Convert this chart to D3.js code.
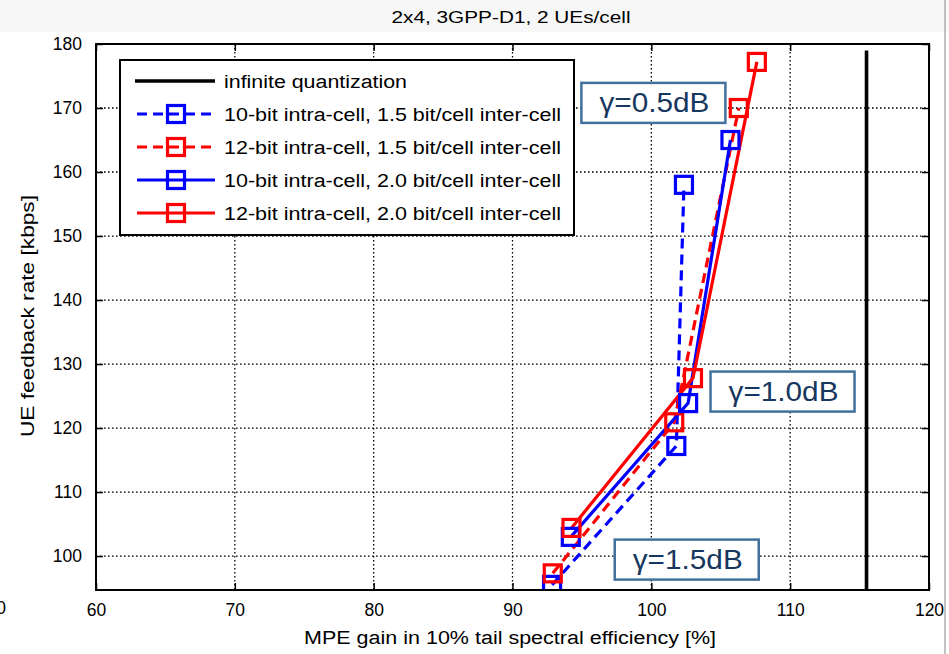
<!DOCTYPE html>
<html>
<head>
<meta charset="utf-8">
<script src="https://cdn.jsdelivr.net/npm/d3@7"></script>
<style>
  body { margin: 0; background: #fff; }
  svg { display: block; }
  text { font-family: "Liberation Sans", Arial, sans-serif; }
</style>
</head>
<body>
<div id="chart"></div>
<script>
// data
const seriesNames = [
  "10-bit intra-cell, 1.5 bit/cell inter-cell",
  "12-bit intra-cell, 1.5 bit/cell inter-cell",
  "10-bit intra-cell, 2.0 bit/cell inter-cell",
  "12-bit intra-cell, 2.0 bit/cell inter-cell"
];
const seriesColors = ["#0000ff", "#ff0000", "#0000ff", "#ff0000"];
const seriesDashed = [true, true, false, false];
const gain10_15 = [92.85, 101.8, 102.35];
const rate10_15 = [95.5, 117.2, 158.0];
const gain12_15 = [92.9, 101.65, 106.3];
const rate12_15 = [97.3, 120.9, 170.0];
const gain10_20 = [94.2, 102.65, 105.7];
const rate10_20 = [103.0, 123.9, 165.0];
const gain12_20 = [94.25, 103.0, 107.6];
const rate12_20 = [104.4, 127.8, 177.2];
const infiniteGain = [115.5, 115.5];
const infiniteRate = [90, 179];
const xTicks = [60, 70, 80, 90, 100, 110, 120];
const yTicks = [100, 110, 120, 130, 140, 150, 160, 170, 180];
const gammaLabels = ["\u03b3=0.5dB", "\u03b3=1.0dB", "\u03b3=1.5dB"];
const gammaAnchor = [[100.15, 170.8], [109.45, 125.7], [102.55, 99.45]]; // centre of each box, data units

const width = 949, height = 654;
const margin = {top: 44, right: 20, bottom: 64, left: 96};

const svg = d3.select("#chart").append("svg")
  .attr("width", width).attr("height", height);

// light top band + right edge line (screenshot frame)
svg.append("rect").attr("x", 0).attr("y", 0).attr("width", width).attr("height", 32).attr("fill", "#f7f7f7");
svg.append("line").attr("x1", 945).attr("x2", 945).attr("y1", 0).attr("y2", height)
  .attr("stroke", "#9a9a9a").attr("stroke-width", 1.2);

const x = d3.scaleLinear().domain([60, 120]).range([margin.left, width - margin.right]);
const y = d3.scaleLinear().domain([94.7, 180]).range([height - margin.bottom, margin.top]);

svg.append("defs").append("clipPath").attr("id", "plotclip")
  .append("rect")
  .attr("x", x(60)).attr("y", y(180))
  .attr("width", x(120) - x(60)).attr("height", y(94.7) - y(180));

svg.append("rect")
  .attr("x", x(60)).attr("y", y(180))
  .attr("width", x(120) - x(60)).attr("height", y(94.7) - y(180))
  .attr("fill", "#fff");

// grid
const grid = svg.append("g").attr("stroke", "#000").attr("stroke-width", 1.3).attr("stroke-dasharray", "1.6,2.4");
grid.selectAll(".gx").data(xTicks.slice(1, -1)).join("line")
  .attr("x1", d => x(d)).attr("x2", d => x(d))
  .attr("y1", y(180)).attr("y2", y(94.7));
grid.selectAll(".gy").data(yTicks.slice(0, -1)).join("line")
  .attr("x1", x(60)).attr("x2", x(120))
  .attr("y1", d => y(d)).attr("y2", d => y(d));

// axes with inward ticks
const fmt = d3.format("d");
svg.append("g")
  .attr("transform", `translate(0,${y(94.7)})`)
  .call(d3.axisBottom(x).tickValues(xTicks).tickSize(-7).tickPadding(14).tickFormat(fmt))
  .call(g => g.select(".domain").remove())
  .call(g => g.selectAll(".tick line").attr("stroke-width", 1.5))
  .call(g => g.selectAll("text").attr("font-size", 17.5).attr("fill", "#000")
    .attr("font-family", "Liberation Sans, Arial, sans-serif"));
svg.append("g")
  .attr("transform", `translate(0,${y(180)})`)
  .call(d3.axisTop(x).tickValues(xTicks).tickSize(-7).tickFormat(""))
  .call(g => g.select(".domain").remove())
  .call(g => g.selectAll(".tick line").attr("stroke-width", 1.5));
svg.append("g")
  .attr("transform", `translate(${x(60)},0)`)
  .call(d3.axisLeft(y).tickValues(yTicks).tickSize(-7).tickPadding(14).tickFormat(fmt))
  .call(g => g.select(".domain").remove())
  .call(g => g.selectAll(".tick line").attr("stroke-width", 1.5))
  .call(g => g.selectAll("text").attr("font-size", 17.5).attr("fill", "#000")
    .attr("font-family", "Liberation Sans, Arial, sans-serif"));
svg.append("g")
  .attr("transform", `translate(${x(120)},0)`)
  .call(d3.axisRight(y).tickValues(yTicks).tickSize(-7).tickFormat(""))
  .call(g => g.select(".domain").remove())
  .call(g => g.selectAll(".tick line").attr("stroke-width", 1.5));

// infinite quantization line
const plot = svg.append("g").attr("clip-path", "url(#plotclip)");
const line = d3.line().x(d => x(d[0])).y(d => y(d[1]));
plot.append("path")
  .datum(d3.zip(infiniteGain, infiniteRate))
  .attr("d", line).attr("fill", "none").attr("stroke", "#000").attr("stroke-width", 3.6);

const series = [
  d3.zip(gain10_15, rate10_15),
  d3.zip(gain12_15, rate12_15),
  d3.zip(gain10_20, rate10_20),
  d3.zip(gain12_20, rate12_20)
];
const msize = 17;
series.forEach((pts, i) => {
  plot.append("path").datum(pts).attr("d", line)
    .attr("fill", "none").attr("stroke", seriesColors[i]).attr("stroke-width", 3.2)
    .attr("stroke-dasharray", seriesDashed[i] ? "10,6" : null);
});
series.forEach((pts, i) => {
  plot.append("g").selectAll("rect").data(pts).join("rect")
    .attr("x", d => x(d[0]) - msize / 2).attr("y", d => y(d[1]) - msize / 2)
    .attr("width", msize).attr("height", msize)
    .attr("fill", "none").attr("stroke", seriesColors[i]).attr("stroke-width", 3.2);
});

// axes box
svg.append("rect")
  .attr("x", x(60)).attr("y", y(180))
  .attr("width", x(120) - x(60)).attr("height", y(94.7) - y(180))
  .attr("fill", "none").attr("stroke", "#000").attr("stroke-width", 2);

// legend
const legend = svg.append("g");
legend.append("rect").attr("x", 120).attr("y", 60).attr("width", 454).attr("height", 175)
  .attr("fill", "#fff").attr("stroke", "#000").attr("stroke-width", 2);
const legendRows = [81, 114, 147, 180, 213];
legend.append("line").attr("x1", 135).attr("x2", 215).attr("y1", legendRows[0]).attr("y2", legendRows[0])
  .attr("stroke", "#000").attr("stroke-width", 3.6);
legend.append("text").attr("x", 224).attr("y", legendRows[0] + 6.5)
  .attr("font-size", 18).attr("textLength", 183).attr("lengthAdjust", "spacingAndGlyphs")
  .text("infinite quantization");
seriesNames.forEach((name, i) => {
  const ry = legendRows[i + 1];
  legend.append("line").attr("x1", 137).attr("x2", 215).attr("y1", ry).attr("y2", ry)
    .attr("stroke", seriesColors[i]).attr("stroke-width", 3.2)
    .attr("stroke-dasharray", seriesDashed[i] ? "10,6" : null);
  legend.append("rect").attr("x", 176 - msize / 2).attr("y", ry - msize / 2)
    .attr("width", msize).attr("height", msize)
    .attr("fill", "none").attr("stroke", seriesColors[i]).attr("stroke-width", 3.2);
  legend.append("text").attr("x", 224).attr("y", ry + 6.5)
    .attr("font-size", 18).attr("textLength", 337).attr("lengthAdjust", "spacingAndGlyphs")
    .text(name);
});

// gamma annotation boxes
const boxW = 144, boxH = 40;
gammaLabels.forEach((lab, i) => {
  const cx = x(gammaAnchor[i][0]), cy = y(gammaAnchor[i][1]);
  const g = svg.append("g");
  g.append("rect").attr("x", cx - boxW / 2).attr("y", cy - boxH / 2)
    .attr("width", boxW).attr("height", boxH)
    .attr("fill", "#fff").attr("stroke", "#41719c").attr("stroke-width", 2.5);
  g.append("text").attr("x", cx + 1).attr("y", cy + 9.5)
    .attr("text-anchor", "middle").attr("font-size", 27).attr("fill", "#17375e")
    .attr("font-family", "Lato, 'Noto Sans', sans-serif")
    .attr("textLength", 110).attr("lengthAdjust", "spacingAndGlyphs")
    .text(lab);
});

// titles
svg.append("text").attr("x", 511).attr("y", 23).attr("text-anchor", "middle")
  .attr("font-size", 16.5).attr("textLength", 239).attr("lengthAdjust", "spacingAndGlyphs")
  .text("2x4, 3GPP-D1, 2 UEs/cell");
svg.append("text").attr("x", 510).attr("y", 644).attr("text-anchor", "middle")
  .attr("font-size", 18).attr("textLength", 412).attr("lengthAdjust", "spacingAndGlyphs")
  .text("MPE gain in 10% tail spectral efficiency [%]");
svg.append("text").attr("transform", "translate(34,316) rotate(-90)").attr("text-anchor", "middle")
  .attr("font-size", 18).attr("textLength", 242).attr("lengthAdjust", "spacingAndGlyphs")
  .text("UE feedback rate [kbps]");
// label fragment at the left edge, as in the source screenshot
svg.append("text").attr("x", 6).attr("y", 614).attr("text-anchor", "end")
  .attr("font-size", 17.5).text("0");
</script>
</body>
</html>
